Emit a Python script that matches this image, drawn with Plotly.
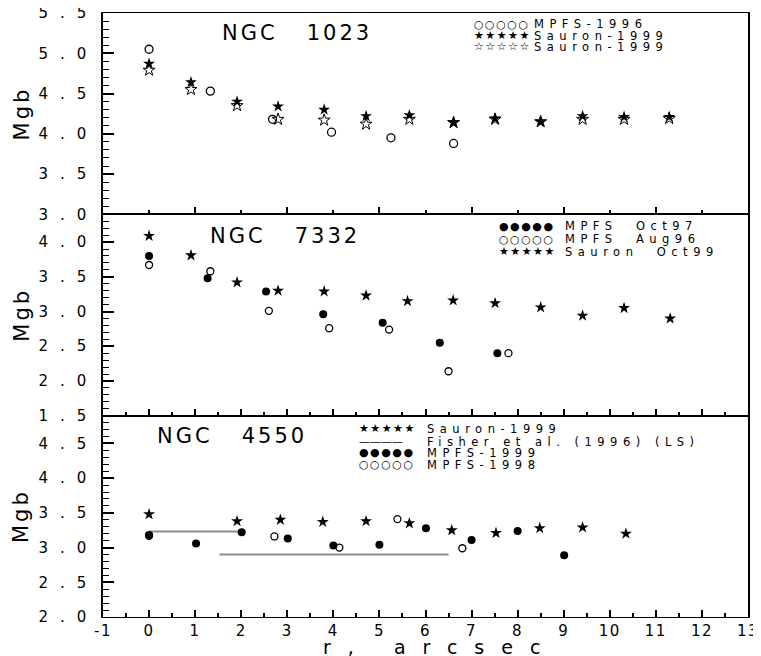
import plotly.graph_objects as go
from plotly.subplots import make_subplots

# ---------------- data ----------------
# NGC 1023
n1023_mpfs96_r = [0.0, 1.33, 2.68, 3.96, 5.25, 6.61]
n1023_mpfs96_mgb = [5.05, 4.53, 4.18, 4.02, 3.95, 3.88]
n1023_sauron_r = [0.0, 0.91, 1.91, 2.80, 3.80, 4.71, 5.65, 6.61, 7.51, 8.50, 9.41, 10.31, 11.29]
n1023_sauron_a_mgb = [4.87, 4.64, 4.40, 4.34, 4.30, 4.22, 4.23, 4.14, 4.19, 4.15, 4.22, 4.21, 4.21]
n1023_sauron_b_mgb = [4.79, 4.55, 4.35, 4.18, 4.17, 4.12, 4.18, 4.14, 4.18, 4.15, 4.18, 4.18, 4.19]

# NGC 7332
n7332_oct97_r = [0.0, 1.27, 2.54, 3.78, 5.07, 6.31, 7.56]
n7332_oct97_mgb = [3.80, 3.48, 3.29, 2.96, 2.84, 2.55, 2.40]
n7332_aug96_r = [0.0, 1.33, 2.60, 3.91, 5.21, 6.50, 7.80]
n7332_aug96_mgb = [3.67, 3.58, 3.01, 2.76, 2.74, 2.14, 2.40]
n7332_sauron_r = [0.0, 0.91, 1.91, 2.80, 3.80, 4.71, 5.61, 6.60, 7.51, 8.50, 9.41, 10.31, 11.31]
n7332_sauron_mgb = [4.09, 3.81, 3.42, 3.30, 3.29, 3.23, 3.15, 3.16, 3.12, 3.06, 2.94, 3.05, 2.90]

# NGC 4550
n4550_sauron_r = [0.0, 1.91, 2.85, 3.77, 4.71, 5.65, 6.57, 7.53, 8.48, 9.41, 10.35]
n4550_sauron_mgb = [3.48, 3.38, 3.40, 3.37, 3.38, 3.35, 3.25, 3.21, 3.28, 3.29, 3.20]
n4550_mpfs99_r = [0.0, 1.02, 2.01, 3.01, 4.00, 5.00, 6.01, 7.00, 8.00, 9.01]
n4550_mpfs99_mgb = [3.18, 3.06, 3.22, 3.13, 3.03, 3.04, 3.28, 3.11, 3.24, 2.89]
n4550_mpfs98_r = [0.0, 2.72, 4.13, 5.39, 6.80]
n4550_mpfs98_mgb = [3.17, 3.16, 3.00, 3.41, 2.99]
fisher_r = [0.0, 2.0, None, 1.53, 6.50]
fisher_mgb = [3.23, 3.23, None, 2.90, 2.90]

# axes
x_range = [-1, 13]
x_ticks = list(range(-1, 14))
y_ranges = [[3.0, 5.5], [1.5, 4.4], [2.0, 4.9]]
y_ticks = [[3.0, 3.5, 4.0, 4.5, 5.0, 5.5],
           [1.5, 2.0, 2.5, 3.0, 3.5, 4.0],
           [2.0, 2.5, 3.0, 3.5, 4.0, 4.5]]
titles = ["NGC   1023", "NGC   7332", "NGC   4550"]

legend_rows = [
    [("○○○○○", "MPFS-1996"), ("★★★★★", "Sauron-1999"), ("☆☆☆☆☆", "Sauron-1999")],
    [("●●●●●", "MPFS  Oct97"), ("○○○○○", "MPFS  Aug96"), ("★★★★★", "Sauron  Oct99")],
    [("★★★★★", "Sauron-1999"), ("————", "Fisher et al. (1996) (LS)"),
     ("●●●●●", "MPFS-1999"), ("○○○○○", "MPFS-1998")],
]

FONT = "DejaVu Sans"


def sp(text, ls, size=None):
    st = f"letter-spacing:{ls}px"
    if size:
        st += f";font-size:{size}px"
    return f'<span style="{st}">{text}</span>'


fig = make_subplots(rows=3, cols=1, vertical_spacing=0)

star = dict(symbol="star", size=9, color="black", line=dict(width=0))
star_open = dict(symbol="star-open", size=9, color="black", line=dict(width=1, color="black"))
circ_open = dict(symbol="circle-open", size=7, color="black", line=dict(width=1.3, color="black"))
circ_fill = dict(symbol="circle", size=8, color="black", line=dict(width=0))

# panel 1
fig.add_trace(go.Scatter(x=n1023_mpfs96_r, y=n1023_mpfs96_mgb, mode="markers",
                         marker=dict(circ_open, size=8), name="MPFS-1996"), row=1, col=1)
fig.add_trace(go.Scatter(x=n1023_sauron_r, y=n1023_sauron_b_mgb, mode="markers",
                         marker=star_open, name="Sauron-1999"), row=1, col=1)
fig.add_trace(go.Scatter(x=n1023_sauron_r, y=n1023_sauron_a_mgb, mode="markers",
                         marker=star, name="Sauron-1999"), row=1, col=1)
# panel 2
fig.add_trace(go.Scatter(x=n7332_oct97_r, y=n7332_oct97_mgb, mode="markers",
                         marker=circ_fill, name="MPFS Oct97"), row=2, col=1)
fig.add_trace(go.Scatter(x=n7332_aug96_r, y=n7332_aug96_mgb, mode="markers",
                         marker=circ_open, name="MPFS Aug96"), row=2, col=1)
fig.add_trace(go.Scatter(x=n7332_sauron_r, y=n7332_sauron_mgb, mode="markers",
                         marker=star, name="Sauron Oct99"), row=2, col=1)
# panel 3
fig.add_trace(go.Scatter(x=fisher_r, y=fisher_mgb, mode="lines",
                         line=dict(color="#8c8c8c", width=2), name="Fisher et al. (1996) (LS)"),
              row=3, col=1)
fig.add_trace(go.Scatter(x=n4550_sauron_r, y=n4550_sauron_mgb, mode="markers",
                         marker=star, name="Sauron-1999"), row=3, col=1)
fig.add_trace(go.Scatter(x=n4550_mpfs99_r, y=n4550_mpfs99_mgb, mode="markers",
                         marker=circ_fill, name="MPFS-1999"), row=3, col=1)
fig.add_trace(go.Scatter(x=n4550_mpfs98_r, y=n4550_mpfs98_mgb, mode="markers",
                         marker=circ_open, name="MPFS-1998"), row=3, col=1)

for i in range(3):
    row = i + 1
    top = (i == 0)
    fig.update_xaxes(
        range=x_range, showline=True, mirror=True, linecolor="black", linewidth=1.3,
        showgrid=False, zeroline=False, ticks="inside", ticklen=7, tickwidth=1.5,
        tickcolor="black", automargin=False, ticklabeloverflow="allow",
        tickmode="linear", tick0=1 if top else 0, dtick=2 if top else 1,
        minor=dict(ticks="inside", ticklen=4, tickwidth=1.5, tickcolor="black",
                   dtick=1 if top else 0.5, tick0=0),
        showticklabels=(row == 3),
        row=row, col=1)
    fig.update_yaxes(
        range=y_ranges[i], showline=True, mirror=True, linecolor="black", linewidth=1.5,
        showgrid=False, zeroline=False, ticks="inside", ticklen=11, tickwidth=1.5,
        tickcolor="black", automargin=False, ticklabeloverflow="allow",
        tickvals=y_ticks[i], ticktext=[sp(f"{v:.1f}", 12) for v in y_ticks[i]],
        minor=dict(ticks="inside", ticklen=6, tickwidth=1.2, tickcolor="black",
                   dtick=0.1, tick0=0),
        tickfont=dict(family=FONT, size=15, color="black"),
        row=row, col=1)

fig.update_xaxes(tickmode="array", tickvals=x_ticks,
                 ticktext=[sp(str(v), 1.5) for v in x_ticks],
                 tickfont=dict(family=FONT, size=15, color="black"), row=3, col=1)
fig.update_xaxes(minor=dict(ticks="inside", ticklen=4, tickwidth=1.5, tickcolor="black",
                            dtick=0.5, tick0=0), row=3, col=1)

annotations = []
title_pos = [(0.181, 0.90), (0.163, 0.892), (0.081, 0.900)]
leg_x = [(0.572, 0.665), (0.611, 0.713), (0.394, 0.499)]
leg_y = [[0.943, 0.888, 0.833], [0.941, 0.877, 0.813], [0.935, 0.871, 0.816, 0.756]]
for i in range(3):
    xr = "x domain" if i == 0 else f"x{i+1} domain"
    yr = "y domain" if i == 0 else f"y{i+1} domain"
    annotations.append(dict(xref=xr, yref=yr, x=title_pos[i][0], y=title_pos[i][1],
                            text=sp(titles[i], 3), showarrow=False, xanchor="left",
                            yanchor="middle", font=dict(family=FONT, size=21, color="black")))
    annotations.append(dict(xref="paper", yref=yr, x=-0.126, y=0.5,
                            text=sp("Mgb", 3), textangle=-90, showarrow=False,
                            xanchor="center", yanchor="middle",
                            font=dict(family=FONT, size=21, color="black")))
    for j, (sym, lab) in enumerate(legend_rows[i]):
        annotations.append(dict(xref=xr, yref=yr, x=leg_x[i][0], y=leg_y[i][j],
                                text=sp(sym, 1.5 if sym[0] != "—" else 0), showarrow=False,
                                xanchor="left", yanchor="middle",
                                font=dict(family=FONT, size=11, color="black")))
        annotations.append(dict(xref=xr, yref=yr, x=leg_x[i][1], y=leg_y[i][j],
                                text=sp(lab, 5.5), showarrow=False,
                                xanchor="left", yanchor="middle",
                                font=dict(family=FONT, size=11.5, color="black")))

annotations.append(dict(xref="paper", yref="paper", x=0.522, y=-0.049,
                        text=sp("r, arcsec", 17), showarrow=False,
                        xanchor="center", yanchor="middle",
                        font=dict(family=FONT, size=19, color="black")))

# the page body adds an 8 px offset, so the figure is sized to the visible area
fig.update_layout(
    width=753, height=648,
    margin=dict(l=95, r=13, t=5, b=39),
    paper_bgcolor="white", plot_bgcolor="white",
    showlegend=False,
    annotations=annotations,
    font=dict(family=FONT, color="black"),
)

fig.write_html("out.html")
